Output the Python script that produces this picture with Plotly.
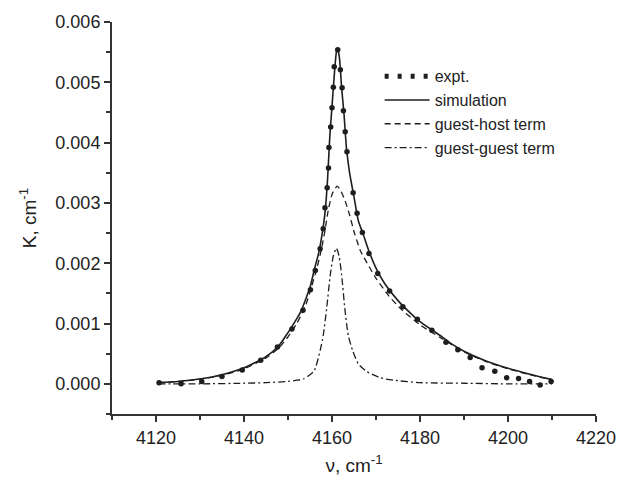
import plotly.graph_objects as go

expt_x = [4120.7, 4125.7, 4130.4, 4135.0, 4139.6, 4143.8, 4147.6, 4150.9, 4153.4, 4155.1,
          4156.2, 4157.3, 4158.0, 4158.4, 4158.9, 4159.2, 4159.3, 4159.7, 4160.0, 4160.3,
          4160.5, 4161.3, 4161.9, 4162.3, 4162.6, 4163.0, 4163.4, 4164.8, 4165.7, 4166.9,
          4168.4, 4170.4, 4173.1, 4176.1, 4179.4, 4182.7, 4185.9, 4188.6, 4191.4, 4194.1,
          4197.0, 4199.7, 4202.4, 4204.9, 4207.3, 4209.8]
expt_y = [0.00002, 0.0, 0.00004, 0.00012, 0.00023, 0.00039, 0.00061, 0.00091, 0.00122, 0.00156,
          0.00188, 0.00224, 0.00257, 0.00292, 0.00325, 0.00358, 0.00392, 0.00426, 0.00458, 0.00492,
          0.00526, 0.00554, 0.00521, 0.00491, 0.00453, 0.00418, 0.00385, 0.00317, 0.00283, 0.00251,
          0.00216, 0.00183, 0.00154, 0.00128, 0.00107, 0.00089, 0.00069, 0.000565, 0.000435, 0.000265,
          0.00021, 0.0001, 0.00009, 0.00004, -0.00002, 0.00004]

# simulation
sim_x = [4120.5, 4125, 4130, 4135, 4140, 4145, 4148, 4150, 4152, 4153, 4154, 4155, 4156, 4157,
         4158, 4158.5, 4159, 4159.5, 4160, 4160.5, 4161, 4161.3, 4161.7, 4162.2, 4162.7, 4163.3,
         4164, 4165, 4166, 4167, 4168.4, 4170, 4172, 4175, 4178, 4180, 4185, 4187, 4190, 4195,
         4200, 4205, 4210]
sim_y = [0.00002, 0.00004, 0.00008, 0.00015, 0.000265, 0.00045, 0.00064, 0.00085, 0.00108, 0.00121,
         0.0014, 0.0016, 0.0019, 0.00218, 0.0026, 0.0029, 0.0034, 0.0041, 0.0046, 0.0051,
         0.0055, 0.00555, 0.0054, 0.0049, 0.0045, 0.0039, 0.0035, 0.0031, 0.0027, 0.0025,
         0.0022, 0.00192, 0.00166, 0.00138, 0.00116, 0.00103, 0.00078, 0.00067, 0.00054, 0.00038,
         0.00026, 0.00016, 0.00007]

# guest-host term
gh_x = [4120.5, 4125, 4130, 4135, 4140, 4145, 4148, 4150, 4152, 4154, 4155.3, 4156.5, 4157.5,
        4158.3, 4159.2, 4160.1, 4161.2, 4162, 4163, 4164, 4165.1, 4166.5, 4168, 4170, 4173,
        4176, 4180, 4185, 4190, 4195, 4200, 4205, 4210]
gh_y = [0.00002, 0.00004, 0.00008, 0.00014, 0.00025, 0.00043, 0.0006, 0.00078, 0.001, 0.0013,
        0.0016, 0.0019, 0.0022, 0.0025, 0.0029, 0.00316, 0.00328, 0.0032, 0.00303, 0.0028,
        0.0025, 0.0022, 0.002, 0.00175, 0.00145, 0.00122, 0.00098, 0.00075, 0.00053, 0.00037,
        0.00025, 0.00015, 0.00007]

# guest-guest term
gg_x = [4120.5, 4130, 4140, 4145, 4150, 4152, 4153.5, 4155, 4156, 4157.3, 4158, 4158.8, 4159.6,
        4160.3, 4161, 4161.6, 4162.2, 4162.9, 4163.7, 4164.7, 4166, 4168, 4171, 4174, 4180,
        4190, 4200, 4210]
gg_y = [0.0, 0.0, 0.00001, 0.00002, 0.00004, 0.00006, 0.00008, 0.00015, 0.00022, 0.00055,
        0.0008, 0.00126, 0.0018, 0.00212, 0.00225, 0.00212, 0.0018, 0.00126, 0.0008, 0.00055,
        0.00033, 0.0002, 0.0001, 0.00006, 0.00002, 0.00001, 0.0, 0.0]

ink = '#1e1e1e'
axis_col = '#333333'

fig = go.Figure()

fig.add_trace(go.Scatter(x=expt_x, y=expt_y, mode='markers', name='expt.',
                         marker=dict(size=5.5, color=ink), showlegend=False))
# legend-only entry so the legend shows a row of dots
fig.add_trace(go.Scatter(x=[None], y=[None], mode='lines', name='expt.', legendgroup='a',
                         line=dict(color=ink, width=5, dash='4px,9px')))
fig.add_trace(go.Scatter(x=sim_x, y=sim_y, mode='lines', name='simulation', legendgroup='b',
                         line=dict(color=ink, width=1.6, shape='spline', smoothing=0.6)))
fig.add_trace(go.Scatter(x=gh_x, y=gh_y, mode='lines', name='guest-host term', legendgroup='c',
                         line=dict(color=ink, width=1.3, dash='6px,4px', shape='spline', smoothing=0.6)))
fig.add_trace(go.Scatter(x=gg_x, y=gg_y, mode='lines', name='guest-guest term', legendgroup='d',
                         line=dict(color=ink, width=1.3, dash='7px,3px,2px,3px', shape='spline', smoothing=0.6)))

fig.update_layout(
    width=628, height=487,
    margin=dict(l=112, r=21, t=15, b=73),
    plot_bgcolor='white', paper_bgcolor='white',
    font=dict(family='Arial, Liberation Sans, sans-serif', size=18, color='#222222'),
    showlegend=True,
    legend=dict(x=0.553, y=0.905, xanchor='left', yanchor='top', bgcolor='rgba(0,0,0,0)',
                font=dict(size=16), tracegroupgap=0, itemwidth=45),
    xaxis=dict(range=[4110, 4220], tick0=4120, dtick=20, ticks='outside', ticklen=6, tickwidth=1.5,
               tickcolor=axis_col, showline=True, linecolor=axis_col, linewidth=2,
               showgrid=False, zeroline=False,
               minor=dict(tick0=4110, dtick=10, ticks='outside', ticklen=4, tickcolor=axis_col,
                          tickwidth=1.5, showgrid=False),
               title=dict(text='ν, cm<sup>-1</sup>', font=dict(size=19), standoff=12)),
    yaxis=dict(range=[-0.0005, 0.006], tick0=0, dtick=0.001, tickformat='.3f', ticks='outside',
               ticklen=6, tickwidth=1.5, tickcolor=axis_col, showline=True, linecolor=axis_col,
               linewidth=2, showgrid=False, zeroline=False,
               minor=dict(tick0=0.0005, dtick=0.001, ticks='outside', ticklen=4, tickcolor=axis_col,
                          tickwidth=1.5, showgrid=False),
               title=dict(text='K, cm<sup>-1</sup>', font=dict(size=19), standoff=14)),
)

fig.write_html('out.html', config={'displayModeBar': False},
               post_script="document.body.style.margin='0';")
